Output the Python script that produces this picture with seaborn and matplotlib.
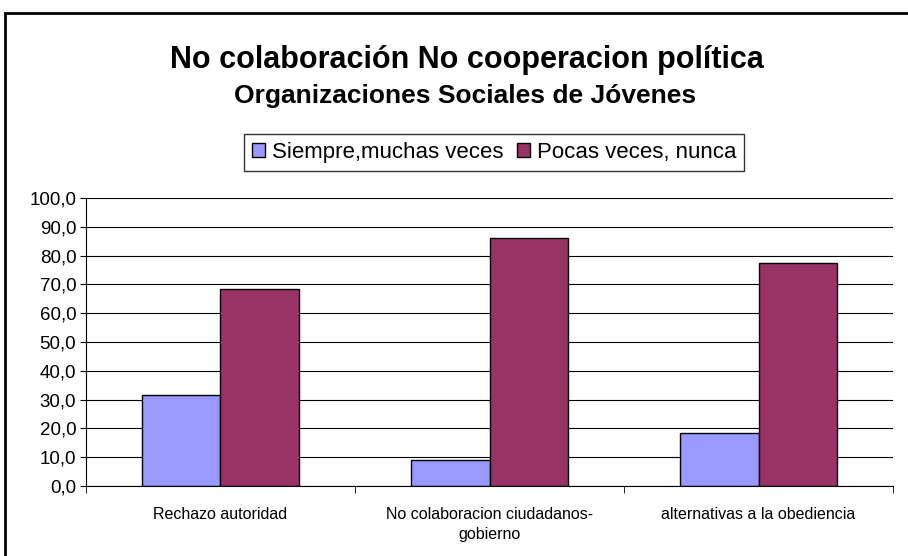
import pandas as pd
import matplotlib
matplotlib.use("Agg")
import matplotlib.pyplot as plt
import seaborn as sns
from matplotlib.patches import Rectangle

categories = ["Rechazo autoridad", "No colaboracion ciudadanos-\ngobierno", "alternativas a la obediencia"]
series_names = ["Siempre,muchas veces", "Pocas veces, nunca"]
siempre = [31.6, 8.9, 18.3]
pocas = [68.4, 86.1, 77.3]
y_ticks = [0, 10, 20, 30, 40, 50, 60, 70, 80, 90, 100]
y_labels = ["0,0", "10,0", "20,0", "30,0", "40,0", "50,0", "60,0", "70,0", "80,0", "90,0", "100,0"]

df = pd.DataFrame({
    "categoria": categories * 2,
    "serie": [series_names[0]] * 3 + [series_names[1]] * 3,
    "valor": siempre + pocas,
})

sns.set_style("white")
plt.rcParams["font.family"] = ["Liberation Sans", "DejaVu Sans"]
plt.rcParams["text.color"] = "black"
plt.rcParams["xtick.color"] = "black"
plt.rcParams["ytick.color"] = "black"

fig = plt.figure(figsize=(9.08, 5.56), dpi=100)
ax = fig.add_axes([0.0947, 0.1259, 0.8888, 0.518])

sns.barplot(data=df, x="categoria", y="valor", hue="serie", order=categories,
            hue_order=series_names, palette=["#9999FF", "#993366"], width=0.58,
            edgecolor="black", linewidth=1, saturation=1, ax=ax, legend=True)

ax.set_xlim(-0.5, 2.5)
ax.set_ylim(0, 100)
ax.set_yticks(y_ticks)
ax.set_yticklabels(y_labels, fontsize=13.5)
ax.yaxis.grid(True, color="black", linewidth=0.8)
ax.set_axisbelow(True)
ax.set_xlabel("")
ax.set_ylabel("")
ax.tick_params(axis="x", length=0, labelsize=11.5, pad=15)
for lbl in ax.get_xticklabels():
    lbl.set_linespacing(1.4)
ax.tick_params(axis="y", length=4, direction="out", pad=3, left=True)
ax.set_xticks([-0.5, 0.5, 1.5, 2.5], minor=True)
ax.tick_params(axis="x", which="minor", length=5, direction="out", bottom=True)
for s in ["top", "right"]:
    ax.spines[s].set_visible(False)
ax.spines["left"].set_color("black")
ax.spines["bottom"].set_color("black")

handles, labels = ax.get_legend_handles_labels()
ax.get_legend().remove()
fig.legend(handles, labels, loc="center", bbox_to_anchor=(0.544, 0.726), ncol=2,
           frameon=True, fancybox=False, edgecolor="black", fontsize=16,
           handlelength=0.6, handleheight=0.6, handletextpad=0.3, columnspacing=0.6,
           borderpad=0.35)

fig.text(0.514, 0.892, "No colaboración No cooperacion política", ha="center", va="center",
         fontsize=22, fontweight="bold")
fig.text(0.512, 0.828, "Organizaciones Sociales de Jóvenes", ha="center", va="center",
         fontsize=19, fontweight="bold")

fig.patches.append(Rectangle((0.0055, -0.1), 1.2, 1.0766, transform=fig.transFigure,
                             fill=False, edgecolor="black", linewidth=2))

fig.savefig("out.png", dpi=100)
